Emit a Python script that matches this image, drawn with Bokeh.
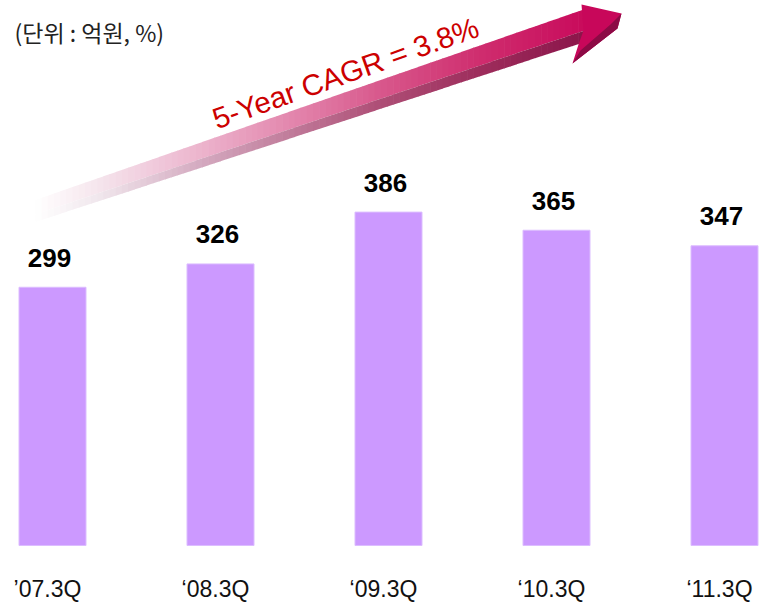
import math
from bokeh.plotting import figure
from bokeh.embed import file_html
from bokeh.resources import INLINE
from bokeh.models import Range1d, ColumnDataSource
from bokeh.core.properties import value

# ---- data ----
categories = ["\u201907.3Q", "\u201808.3Q", "\u201809.3Q", "\u201810.3Q", "\u201811.3Q"]
revenue = [299, 326, 386, 365, 347]
unit_label = "(단위 : 억원, %)"
cagr_label = "5-Year CAGR = 3.8%"

# ---- layout ----
W, H = 760, 603
OFF = 0              # page offset of the figure
KX = 168.0           # px per category step
KY = 0.8637          # px per unit value
X0 = -(52.0 - OFF) / KX
Y0 = -(H + OFF - 545.0) / KY
TY = -9              # baseline correction for text

p = figure(width=W, height=H, output_backend="svg", toolbar_location=None,
           x_range=Range1d(X0, X0 + W / KX), y_range=Range1d(Y0, Y0 + H / KY),
           x_axis_location=None, y_axis_location=None,
           min_border=0, outline_line_color=None,
           background_fill_color="white", border_fill_color="white")
p.grid.visible = False

def dx(sx):
    return X0 + (sx - OFF) / KX

def dy(sy):
    return Y0 + (H - (sy - OFF)) / KY

idx = list(range(len(categories)))

# ---- bars ----
src = ColumnDataSource(dict(x=idx, top=revenue, lab=[str(v) for v in revenue], cat=categories))
p.vbar(x="x", top="top", bottom=0, width=67 / KX, source=src,
       fill_color="#CC99FF", line_color="#DCBDFF", line_width=1)

p.text(x="x", y="top", text="lab", source=src, text_align="center",
       text_baseline="alphabetic", x_offset=-3, y_offset=-20.5 + TY,
       text_font=value("Liberation Sans"), text_font_style="bold",
       text_font_size="26px", text_color="#000000")

p.text(x="x", y=0, text="cat", source=src, text_align="center",
       text_baseline="alphabetic", x_offset=-5, y_offset=52 + TY,
       text_font=value("Liberation Sans"), text_font_size="23px",
       text_color="#111111")

# ---- unit label ----
p.text(x=[dx(14)], y=[dy(40 + TY)], text=[unit_label], text_align="left",
       text_baseline="alphabetic", text_font=value("Noto Sans CJK KR"),
       text_font_size="23px", text_color="#222222")

# ---- growth arrow (decoration, drawn in screen px then mapped) ----
def yc(x):
    return 94 - 0.3375 * (x - 380)

def hh(x):
    return 11 + 5.5 * (x - 35) / 555.0

up_keys = [(35, (255, 255, 255)), (100, (245, 228, 236)), (200, (236, 180, 205)),
           (300, (226, 130, 170)), (380, (216, 88, 140)), (480, (207, 45, 110)),
           (595, (200, 8, 90))]
lo_keys = [(35, (255, 255, 255)), (100, (240, 230, 236)), (200, (212, 170, 192)),
           (300, (190, 118, 150)), (380, (174, 78, 118)), (480, (157, 45, 92)),
           (595, (138, 18, 72))]

def col(keys, x):
    for (xa, ca), (xb, cb) in zip(keys[:-1], keys[1:]):
        if xa <= x <= xb:
            t = (x - xa) / (xb - xa)
            c = [round(ca[i] + (cb[i] - ca[i]) * t) for i in range(3)]
            return "#%02x%02x%02x" % tuple(c)
    c = keys[-1][1] if x > keys[-1][0] else keys[0][1]
    return "#%02x%02x%02x" % c

N = 90
xs_a, ys_a, cs_a = [], [], []
for k in range(N):
    xa = 35 + (590 - 35) * k / N
    xb = 35 + (590 - 35) * (k + 1) / N + 0.6
    xm = 0.5 * (xa + xb)
    ta, tb = yc(xa) - hh(xa), yc(xb) - hh(xb)
    sa, sb = yc(xa) + 0.3 * hh(xa), yc(xb) + 0.3 * hh(xb)
    ba, bb = yc(xa) + hh(xa), yc(xb) + hh(xb)
    xs_a.append([dx(xa), dx(xb), dx(xb), dx(xa)])
    ys_a.append([dy(ta), dy(tb), dy(sb), dy(sa)])
    cs_a.append(col(up_keys, xm))
    xs_a.append([dx(xa), dx(xb), dx(xb), dx(xa)])
    ys_a.append([dy(sa), dy(sb), dy(bb), dy(ba)])
    cs_a.append(col(lo_keys, xm))

p.patches(xs=xs_a, ys=ys_a, fill_color=cs_a, line_color=None)

head = [(581, 4), (621, 13), (617, 28), (572, 63), (578, 44), (583, 30)]
p.patch(x=[dx(a) for a, b in head], y=[dy(b) for a, b in head],
        fill_color="#C8075A", line_color=None)
facet = [(621, 13), (617, 28), (572, 63), (580, 50), (610, 24)]
p.patch(x=[dx(a) for a, b in facet], y=[dy(b) for a, b in facet],
        fill_color="#8C0A45", line_color=None)

# ---- CAGR label ----
p.text(x=[dx(213)], y=[dy(129 + TY - 1)], text=[cagr_label], angle=math.radians(19.5),
       text_align="left", text_baseline="alphabetic",
       text_font=value("Liberation Sans"), text_font_size="29.5px",
       text_color="#CC0000")

open("out.html", "w").write(file_html(p, INLINE))
